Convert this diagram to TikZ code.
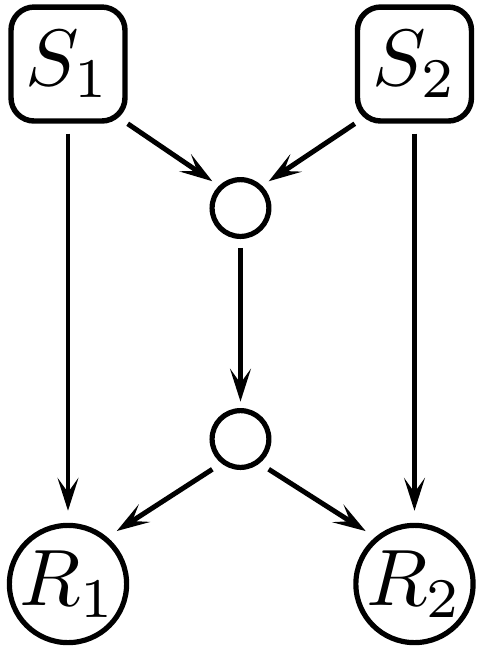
\documentclass[tikz,border=0pt]{standalone}
\usetikzlibrary{arrows.meta}
\begin{document}
\begin{tikzpicture}[x=0.125pt,y=-0.125pt,
  every node/.style={font=\fontsize{9.75}{12}\selectfont},
  sbox/.style={draw,line width=0.68pt,rounded corners=2.9pt,minimum size=14.25pt,inner sep=0pt},
  rnode/.style={draw,circle,line width=0.65pt,minimum size=14.1pt,inner sep=0pt},
  dot/.style={draw,circle,line width=0.65pt,minimum size=7.1pt,inner sep=0pt},
  conn/.style={line width=0.62pt,-{Stealth[length=4.1pt,width=2.6pt,inset=1.8pt]}}]
\useasboundingbox (0,0) rectangle (486,652);
\node[sbox] (S1) at (68,64) {$S_1$};
\node[sbox] (S2) at (414.5,64) {$S_2$};
\node[dot] (a) at (240.5,208) {};
\node[dot] (b) at (240.5,439) {};
\node[rnode] (R1) at (68,584) {$R_1$};
\node[rnode] (R2) at (414.5,584) {$R_2$};
\draw[conn,shorten <=1.25pt,shorten >=1.5pt] (S1.south) -- (R1.north);
\draw[conn,shorten <=1.25pt,shorten >=1.5pt] (S2.south) -- (R2.north);
\draw[conn,shorten >=1pt] (S1.south east) -- (a.134);
\draw[conn,shorten >=1pt] (S2.south west) -- (a.46);
\draw[conn,shorten <=1.1pt,shorten >=0.8pt] (a.south) -- (b.north);
\draw[conn,shorten <=1.35pt,shorten >=1.4pt] (b.232) -- (R1.50);
\draw[conn,shorten <=1.35pt,shorten >=1.4pt] (b.308) -- (R2.130);
\end{tikzpicture}
\end{document}
